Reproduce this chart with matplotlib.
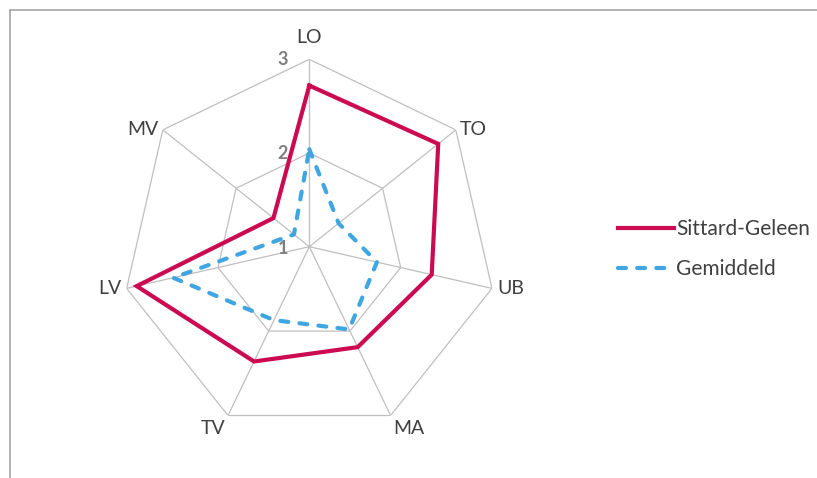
import numpy as np
import matplotlib
matplotlib.use("Agg")
import matplotlib.pyplot as plt

categories = ["LO", "TO", "UB", "MA", "TV", "LV", "MV"]
sittard = [2.72, 2.76, 2.34, 2.19, 2.36, 2.89, 1.49]
gemiddeld = [2.04, 1.40, 1.74, 1.98, 1.87, 2.49, 1.21]
ticks = [1, 2, 3]

RED = "#CC0A52"
BLUE = "#3FA6E2"
GRID = "#BFBFBF"

plt.rcParams["font.family"] = ["Lato", "DejaVu Sans"]

fig = plt.figure(figsize=(8.17, 4.78), dpi=100)
ax = fig.add_axes([0.1492, 0.0919, 0.4588, 0.784], projection="polar")
ax.set_theta_zero_location("N")
ax.set_theta_direction(-1)
ax.set_ylim(ticks[0], ticks[-1])
ax.grid(False)
ax.spines["polar"].set_visible(False)
ax.set_xticks([])
ax.set_yticks([])
ax.patch.set_alpha(0)

n = len(categories)
angles = np.linspace(0, 2 * np.pi, n, endpoint=False)
closed = np.append(angles, angles[0])

# heptagon rings and spokes
for r in ticks[1:]:
    ax.plot(closed, [r] * (n + 1), color=GRID, lw=0.9, zorder=1)
for a in angles:
    ax.plot([a, a], [ticks[0], ticks[-1]], color=GRID, lw=0.9, zorder=1)

ax.plot(closed, sittard + sittard[:1], color=RED, lw=3.0, zorder=3,
        solid_joinstyle="miter", label="Sittard-Geleen")
ax.plot(closed, gemiddeld + gemiddeld[:1], color=BLUE, lw=3.0, zorder=3,
        linestyle=(0, (1.9, 2.7)), dash_capstyle="round", label="Gemiddeld")

# radial tick labels
for t in ticks:
    ax.annotate(str(t), xy=(0, t), xytext=(-19, -1.5 if t == ticks[0] else 0),
                textcoords="offset points", ha="center", va="center",
                fontsize=13, color="#7F7F7F", fontweight="bold",
                annotation_clip=False)

# category labels
for a, lab in zip(angles, categories):
    dx, dy = np.sin(a), np.cos(a)
    if abs(dx) < 0.1:
        ha = "center"
        off = (0, 16)
    else:
        ha = "left" if dx > 0 else "right"
        off = (dx * 4, -9 if dy < -0.5 else 0)
    ax.annotate(lab, xy=(a, ticks[-1]), xytext=off,
                textcoords="offset points", ha=ha, va="center", fontsize=14,
                color="#404040", annotation_clip=False)

leg = fig.legend(loc="center left", bbox_to_anchor=(0.733, 0.479), frameon=False,
                 fontsize=15, handlelength=2.7, labelspacing=0.95, handletextpad=0.1)
for t in leg.get_texts():
    t.set_color("#404040")

# chart area border (partially visible)
fig.add_artist(plt.Line2D([0.0125, 1.0], [0.979, 0.979], color="#A6A6A6", lw=1.2))
fig.add_artist(plt.Line2D([0.0125, 0.0125], [0.0, 0.979], color="#A6A6A6", lw=1.2))

fig.savefig("out.png", dpi=100)
